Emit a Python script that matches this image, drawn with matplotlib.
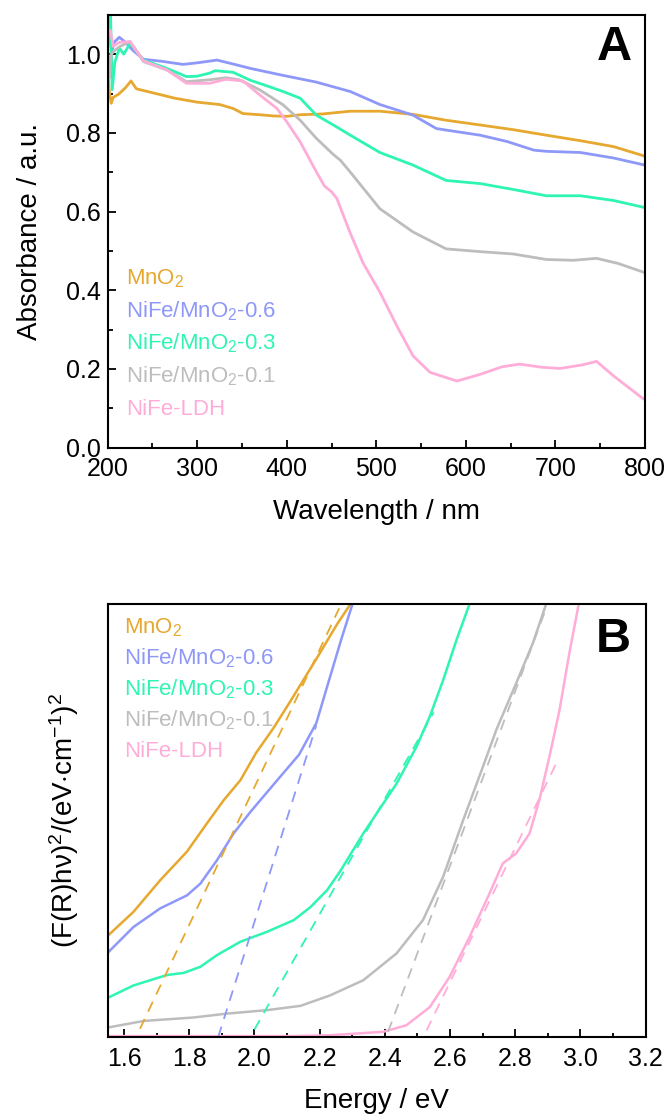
import matplotlib
matplotlib.use("Agg")
import matplotlib.pyplot as plt

plt.rcParams['font.family'] = ['Liberation Sans', 'DejaVu Sans']
plt.rcParams['mathtext.fontset'] = 'custom'
plt.rcParams['mathtext.rm'] = 'Liberation Sans'
plt.rcParams['mathtext.it'] = 'Liberation Sans:italic'
plt.rcParams['mathtext.bf'] = 'Liberation Sans:bold'

# sample names and colours
names = ['MnO$_2$', 'NiFe/MnO$_2$-0.6', 'NiFe/MnO$_2$-0.3', 'NiFe/MnO$_2$-0.1', 'NiFe-LDH']
colors = ['#E6A82E', '#8E98F8', '#2EF5B3', '#BDBDBD', '#FFADD8']

# ---- panel A: UV-vis absorbance (wavelength nm, absorbance) ----
wl_mno2 = [200, 202, 204, 206, 212, 220, 226, 232, 250, 275, 300, 325, 340, 351, 370, 385, 400,
           415, 440, 471, 504, 541, 578, 616, 653, 690, 728, 765, 798, 800]
ab_mno2 = [0.96, 0.90, 0.875, 0.89, 0.898, 0.915, 0.932, 0.912, 0.902, 0.888, 0.878, 0.872, 0.862,
           0.849, 0.846, 0.843, 0.842, 0.846, 0.848, 0.855, 0.855, 0.847, 0.832, 0.820, 0.808,
           0.794, 0.780, 0.765, 0.742, 0.740]

wl_06 = [200, 202, 204, 207, 213, 220, 228, 240, 260, 284, 300, 322, 340, 359, 396, 433, 471, 504,
         541, 567, 578, 616, 646, 676, 690, 728, 765, 798, 800]
ab_06 = [1.0, 0.96, 1.0, 1.03, 1.043, 1.03, 1.01, 0.987, 0.982, 0.974, 0.978, 0.985, 0.975, 0.964,
         0.946, 0.929, 0.905, 0.872, 0.845, 0.811, 0.807, 0.794, 0.778, 0.756, 0.753, 0.750, 0.736,
         0.719, 0.718]

wl_03 = [200, 203, 205, 208, 213, 218, 225, 240, 266, 288, 300, 314, 320, 340, 359, 377, 396, 415,
         433, 452, 471, 504, 541, 578, 616, 653, 690, 728, 765, 798, 800]
ab_03 = [1.0, 1.12, 0.91, 0.98, 1.015, 1.0, 1.028, 0.985, 0.964, 0.943, 0.944, 0.952, 0.958, 0.954,
         0.934, 0.92, 0.905, 0.888, 0.845, 0.82, 0.794, 0.75, 0.718, 0.679, 0.671, 0.656, 0.64,
         0.64, 0.628, 0.611, 0.609]

wl_01 = [200, 202, 204, 208, 214, 225, 240, 266, 288, 314, 332, 347, 370, 396, 415, 433, 452, 460,
         471, 504, 541, 578, 616, 653, 690, 720, 746, 770, 798, 800]
ab_01 = [1.0, 0.94, 1.0, 1.01, 1.02, 1.032, 0.981, 0.96, 0.93, 0.935, 0.94, 0.935, 0.909, 0.871,
         0.832, 0.786, 0.745, 0.73, 0.70, 0.607, 0.548, 0.505, 0.498, 0.492, 0.478, 0.476, 0.481,
         0.468, 0.446, 0.444]

wl_ldh = [200, 203, 206, 213, 225, 240, 266, 288, 314, 332, 351, 370, 389, 400, 415, 433, 442, 450,
          456, 470, 485, 504, 523, 541, 560, 590, 616, 640, 660, 685, 705, 730, 746, 765, 798, 800]
ab_ldh = [1.06, 1.06, 1.02, 1.03, 1.032, 0.983, 0.96, 0.926, 0.926, 0.936, 0.932, 0.896, 0.862,
          0.828, 0.777, 0.701, 0.665, 0.65, 0.633, 0.55, 0.47, 0.395, 0.309, 0.233, 0.191, 0.169,
          0.186, 0.205, 0.212, 0.204, 0.201, 0.21, 0.219, 0.182, 0.124, 0.122]

# ---- panel B: Tauc plot (energy eV, arbitrary units) ----
e_mno2 = [1.552, 1.629, 1.711, 1.793, 1.854, 1.906, 1.957, 2.005, 2.06, 2.11, 2.19, 2.255, 2.295]
t_mno2 = [0.235, 0.289, 0.362, 0.428, 0.493, 0.547, 0.593, 0.656, 0.715, 0.775, 0.873, 0.955, 1.0]

e_06 = [1.552, 1.629, 1.711, 1.793, 1.834, 1.885, 1.936, 1.988, 2.07, 2.137, 2.19, 2.229, 2.268, 2.301]
t_06 = [0.196, 0.254, 0.297, 0.327, 0.354, 0.408, 0.47, 0.52, 0.593, 0.652, 0.725, 0.824, 0.922, 1.0]

e_03 = [1.552, 1.629, 1.731, 1.783, 1.834, 1.885, 1.957, 2.039, 2.121, 2.172, 2.223, 2.265, 2.334,
        2.436, 2.497, 2.538, 2.579, 2.62, 2.66]
t_03 = [0.091, 0.119, 0.143, 0.148, 0.162, 0.189, 0.22, 0.243, 0.27, 0.3, 0.339, 0.385, 0.47,
        0.585, 0.67, 0.74, 0.824, 0.917, 1.0]

e_01 = [1.552, 1.66, 1.813, 1.916, 2.039, 2.142, 2.232, 2.334, 2.436, 2.517, 2.579, 2.64, 2.701,
        2.742, 2.803, 2.854, 2.895]
t_01 = [0.022, 0.037, 0.045, 0.054, 0.062, 0.072, 0.096, 0.131, 0.193, 0.27, 0.37, 0.5, 0.624,
        0.709, 0.817, 0.909, 1.0]

e_ldh = [1.552, 2.1, 2.232, 2.395, 2.466, 2.538, 2.599, 2.66, 2.721, 2.762, 2.803, 2.844, 2.874,
         2.905, 2.936, 2.966, 2.995]
t_ldh = [0.002, 0.002, 0.004, 0.012, 0.027, 0.069, 0.139, 0.231, 0.331, 0.401, 0.424, 0.47, 0.547,
         0.647, 0.755, 0.886, 1.0]

# linear band-gap fits: energies and values at both ends
fit_e = [[1.649, 2.26], [1.889, 2.19], [2.0, 2.55], [2.41, 2.89], [2.528, 2.926]]
fit_t = [[0.019, 0.99], [0.0, 0.72], [0.017, 0.75], [0.012, 0.98], [0.015, 0.632]]

spec_a = [(wl_mno2, ab_mno2), (wl_06, ab_06), (wl_03, ab_03), (wl_01, ab_01), (wl_ldh, ab_ldh)]
spec_b = [(e_mno2, t_mno2), (e_06, t_06), (e_03, t_03), (e_01, t_01), (e_ldh, t_ldh)]

fig = plt.figure(figsize=(6.69, 11.16), dpi=100)
axA = fig.add_axes([0.161, 0.599, 0.803, 0.3877])
axB = fig.add_axes([0.161, 0.0708, 0.804, 0.388])

for ax in (axA, axB):
    for s in ax.spines.values():
        s.set_linewidth(1.5)

# panel A
for (x, y), c in zip(spec_a, colors):
    axA.plot(x, y, color=c, lw=2.0, solid_joinstyle='round')
axA.set_xlim(200, 800)
axA.set_ylim(0, 1.1)
axA.set_xticks([200, 300, 400, 500, 600, 700, 800])
axA.set_xticks([250, 350, 450, 550, 650, 750], minor=True)
axA.set_yticks([0.0, 0.2, 0.4, 0.6, 0.8, 1.0])
axA.set_yticks([0.1, 0.3, 0.5, 0.7, 0.9], minor=True)
axA.set_yticklabels(['0.0', '0.2', '0.4', '0.6', '0.8', '1.0'])
axA.tick_params(which='major', direction='in', length=6, width=1.3, labelsize=18, pad=5)
axA.tick_params(which='minor', direction='in', length=3.5, width=1.3)
axA.tick_params(axis='x', pad=7)
axA.set_xlabel('Wavelength / nm', fontsize=20)
axA.set_ylabel('Absorbance / a.u.', fontsize=20)
axA.xaxis.set_label_coords(0.5, -0.118)
axA.yaxis.set_label_coords(-0.12, 0.5)
axA.text(0.943, 0.925, 'A', transform=axA.transAxes, fontsize=35, fontweight='bold',
         ha='center', va='center')
for i, (n, c) in enumerate(zip(names, colors)):
    axA.text(0.034, 0.376 - 0.075 * i, n, color=c, fontsize=16, transform=axA.transAxes,
             ha='left', va='baseline')

# panel B
for (x, y), c in zip(spec_b, colors):
    axB.plot(x, y, color=c, lw=1.8, solid_joinstyle='round')
for fe, ft, c in zip(fit_e, fit_t, colors):
    axB.plot(fe, ft, color=c, lw=1.3, ls=(0, (6, 4.5)))
axB.set_xlim(1.55, 3.2)
axB.set_ylim(0, 1.0)
axB.set_xticks([1.6, 1.8, 2.0, 2.2, 2.4, 2.6, 2.8, 3.0, 3.2])
axB.set_xticklabels(['1.6', '1.8', '2.0', '2.2', '2.4', '2.6', '2.8', '3.0', '3.2'])
axB.set_xticks([1.7, 1.9, 2.1, 2.3, 2.5, 2.7, 2.9, 3.1], minor=True)
axB.set_yticks([])
axB.tick_params(which='major', direction='in', length=6, width=1.3, labelsize=18, pad=7)
axB.tick_params(which='minor', direction='in', length=3, width=1.3)
axB.set_xlabel('Energy / eV', fontsize=20)
axB.set_ylabel('(F(R)hν)$^2$/(eV$\\cdot$cm$^{-1}$)$^2$', fontsize=20)
axB.xaxis.set_label_coords(0.5, -0.118)
axB.yaxis.set_label_coords(-0.05, 0.5)
axB.text(0.94, 0.917, 'B', transform=axB.transAxes, fontsize=35, fontweight='bold',
         ha='center', va='center')
for i, (n, c) in enumerate(zip(names, colors)):
    axB.text(0.03, 0.931 - 0.071 * i, n, color=c, fontsize=16, transform=axB.transAxes,
             ha='left', va='baseline')

fig.savefig('out.png', dpi=100)
